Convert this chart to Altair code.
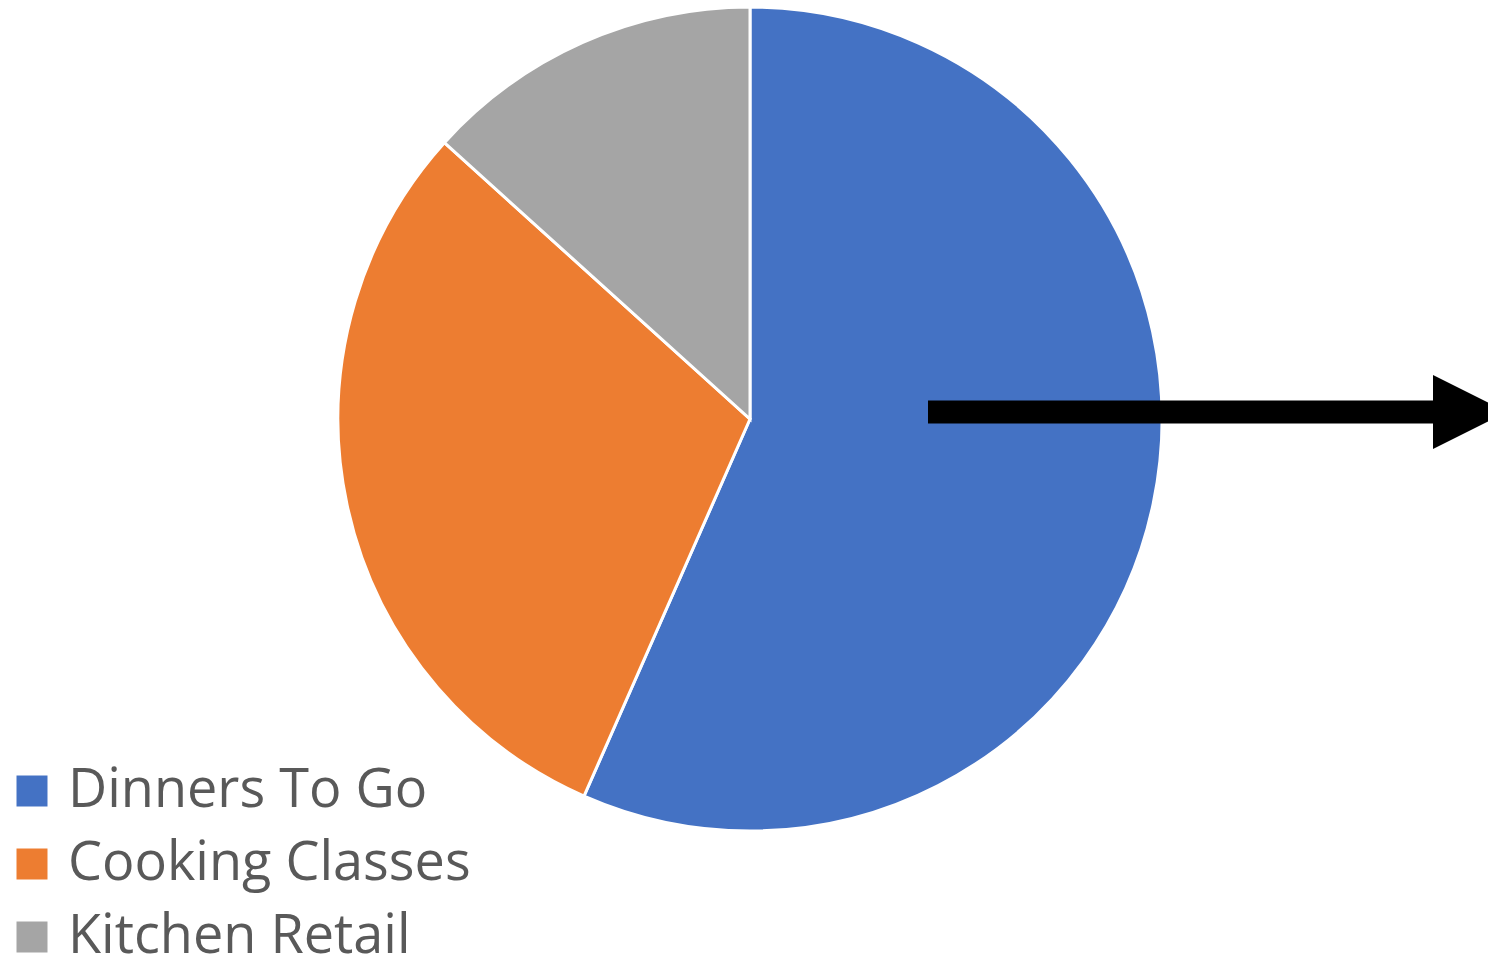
import altair as alt
import pandas as pd

categories = ["Dinners To Go", "Cooking Classes", "Kitchen Retail"]
values = [56.6, 30.1, 13.3]
colors = ["#4472C4", "#ED7D31", "#A5A5A5"]

df = pd.DataFrame({"category": categories, "value": values, "idx": list(range(len(categories)))})

pie = alt.Chart(df).mark_arc(stroke="white", strokeWidth=3, outerRadius=412).encode(
    theta=alt.Theta("value:Q", stack=True),
    order=alt.Order("idx:Q"),
    color=alt.Color(
        "category:N",
        scale=alt.Scale(domain=categories, range=colors),
        legend=alt.Legend(
            title=None,
            orient="none",
            legendX=-3,
            legendY=756,
            direction="vertical",
            symbolType="square",
            symbolSize=961,
            symbolStrokeWidth=0,
            labelFontSize=54,
            labelFont="Open Sans",
            labelColor="#595959",
            labelOffset=9,
            rowPadding=19,
            padding=0,
            labelLimit=700,
        ),
    ),
    x=alt.value(742),
    y=alt.value(411),
)

arrow_df = pd.DataFrame({"k": [0]})
shaft = alt.Chart(arrow_df).mark_rule(color="black", strokeWidth=23, strokeCap="butt").encode(
    x=alt.value(920), x2=alt.value(1430), y=alt.value(404)
)
head = alt.Chart(arrow_df).mark_point(
    shape="M -1 -1 L 1 0 L -1 1 Z", filled=True, color="black", opacity=1, size=5476, strokeWidth=0
).encode(x=alt.value(1462), y=alt.value(404))

chart = alt.layer(pie, shaft, head).properties(
    width=1480, height=951, padding=0, autosize=alt.AutoSizeParams(type="none")
).configure_view(stroke=None)

chart.save("out.html", embed_options={"renderer": "svg", "actions": False})
